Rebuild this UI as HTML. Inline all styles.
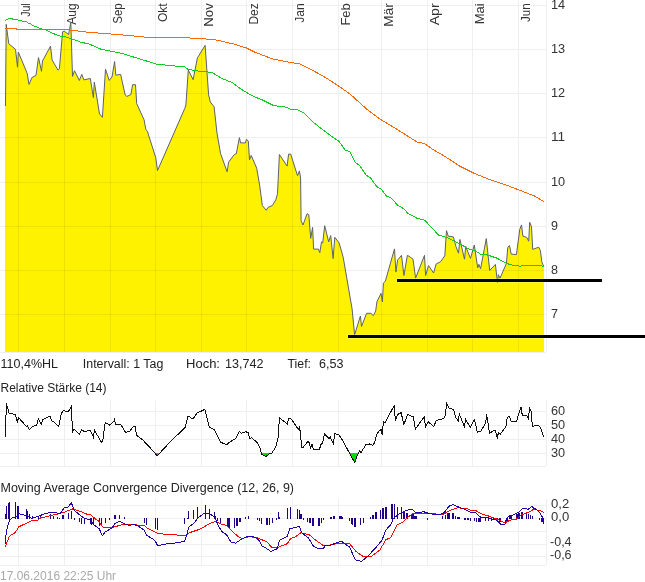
<!DOCTYPE html>
<html><head><meta charset="utf-8"><style>
html,body{margin:0;padding:0;background:#fff;width:645px;height:582px;overflow:hidden}
svg{display:block;will-change:transform}
</style></head><body>
<svg width="645" height="582" viewBox="0 0 645 582">
<line x1="18.5" y1="0" x2="18.5" y2="352" stroke="#efefef" stroke-width="1" />
<line x1="64.5" y1="0" x2="64.5" y2="352" stroke="#efefef" stroke-width="1" />
<line x1="110.5" y1="0" x2="110.5" y2="352" stroke="#efefef" stroke-width="1" />
<line x1="155.5" y1="0" x2="155.5" y2="352" stroke="#efefef" stroke-width="1" />
<line x1="201.5" y1="0" x2="201.5" y2="352" stroke="#efefef" stroke-width="1" />
<line x1="246.5" y1="0" x2="246.5" y2="352" stroke="#efefef" stroke-width="1" />
<line x1="292.5" y1="0" x2="292.5" y2="352" stroke="#efefef" stroke-width="1" />
<line x1="338.5" y1="0" x2="338.5" y2="352" stroke="#efefef" stroke-width="1" />
<line x1="381.5" y1="0" x2="381.5" y2="352" stroke="#efefef" stroke-width="1" />
<line x1="427.5" y1="0" x2="427.5" y2="352" stroke="#efefef" stroke-width="1" />
<line x1="472.5" y1="0" x2="472.5" y2="352" stroke="#efefef" stroke-width="1" />
<line x1="518.5" y1="0" x2="518.5" y2="352" stroke="#efefef" stroke-width="1" />
<line x1="546.5" y1="0" x2="546.5" y2="352" stroke="#efefef" stroke-width="1" />
<line x1="0" y1="5.5" x2="546" y2="5.5" stroke="#efefef" stroke-width="1" />
<line x1="0" y1="49.5" x2="546" y2="49.5" stroke="#efefef" stroke-width="1" />
<line x1="0" y1="93.5" x2="546" y2="93.5" stroke="#efefef" stroke-width="1" />
<line x1="0" y1="137.5" x2="546" y2="137.5" stroke="#efefef" stroke-width="1" />
<line x1="0" y1="182.5" x2="546" y2="182.5" stroke="#efefef" stroke-width="1" />
<line x1="0" y1="226.5" x2="546" y2="226.5" stroke="#efefef" stroke-width="1" />
<line x1="0" y1="270.5" x2="546" y2="270.5" stroke="#efefef" stroke-width="1" />
<line x1="0" y1="314.5" x2="546" y2="314.5" stroke="#efefef" stroke-width="1" />
<line x1="0" y1="352.5" x2="546" y2="352.5" stroke="#efefef" stroke-width="1" />
<text transform="translate(29.6,3.3) rotate(-90)" text-anchor="end" textLength="13.5" lengthAdjust="spacingAndGlyphs" stroke="#fff" stroke-width="2" paint-order="stroke" font-family="Liberation Sans, sans-serif" font-size="12" fill="#333">Jul</text>
<text transform="translate(75.6,3.3) rotate(-90)" text-anchor="end" textLength="21.4" lengthAdjust="spacingAndGlyphs" stroke="#fff" stroke-width="2" paint-order="stroke" font-family="Liberation Sans, sans-serif" font-size="12" fill="#333">Aug</text>
<text transform="translate(121.6,3.3) rotate(-90)" text-anchor="end" textLength="20.5" lengthAdjust="spacingAndGlyphs" stroke="#fff" stroke-width="2" paint-order="stroke" font-family="Liberation Sans, sans-serif" font-size="12" fill="#333">Sep</text>
<text transform="translate(166.6,3.3) rotate(-90)" text-anchor="end" textLength="18.7" lengthAdjust="spacingAndGlyphs" stroke="#fff" stroke-width="2" paint-order="stroke" font-family="Liberation Sans, sans-serif" font-size="12" fill="#333">Okt</text>
<text transform="translate(212.6,3.3) rotate(-90)" text-anchor="end" textLength="23.4" lengthAdjust="spacingAndGlyphs" stroke="#fff" stroke-width="2" paint-order="stroke" font-family="Liberation Sans, sans-serif" font-size="12" fill="#333">Nov</text>
<text transform="translate(257.6,3.3) rotate(-90)" text-anchor="end" textLength="21.3" lengthAdjust="spacingAndGlyphs" stroke="#fff" stroke-width="2" paint-order="stroke" font-family="Liberation Sans, sans-serif" font-size="12" fill="#333">Dez</text>
<text transform="translate(303.6,3.3) rotate(-90)" text-anchor="end" textLength="19.4" lengthAdjust="spacingAndGlyphs" stroke="#fff" stroke-width="2" paint-order="stroke" font-family="Liberation Sans, sans-serif" font-size="12" fill="#333">Jan</text>
<text transform="translate(349.6,3.3) rotate(-90)" text-anchor="end" textLength="22.3" lengthAdjust="spacingAndGlyphs" stroke="#fff" stroke-width="2" paint-order="stroke" font-family="Liberation Sans, sans-serif" font-size="12" fill="#333">Feb</text>
<text transform="translate(392.6,3.3) rotate(-90)" text-anchor="end" textLength="23.4" lengthAdjust="spacingAndGlyphs" stroke="#fff" stroke-width="2" paint-order="stroke" font-family="Liberation Sans, sans-serif" font-size="12" fill="#333">Mär</text>
<text transform="translate(438.6,3.3) rotate(-90)" text-anchor="end" textLength="22.0" lengthAdjust="spacingAndGlyphs" stroke="#fff" stroke-width="2" paint-order="stroke" font-family="Liberation Sans, sans-serif" font-size="12" fill="#333">Apr</text>
<text transform="translate(483.6,3.3) rotate(-90)" text-anchor="end" textLength="20.9" lengthAdjust="spacingAndGlyphs" stroke="#fff" stroke-width="2" paint-order="stroke" font-family="Liberation Sans, sans-serif" font-size="12" fill="#333">Mai</text>
<text transform="translate(529.6,3.3) rotate(-90)" text-anchor="end" textLength="18.6" lengthAdjust="spacingAndGlyphs" stroke="#fff" stroke-width="2" paint-order="stroke" font-family="Liberation Sans, sans-serif" font-size="12" fill="#333">Jun</text>
<clipPath id="cf"><polygon points="5.5,106.0 6.2,24.3 8.8,43.8 15.5,49.3 17.5,67.2 18.3,52.0 27.2,73.4 29.0,84.4 32.0,77.5 36.0,75.4 38.5,57.6 41.5,71.3 42.5,61.0 50.5,46.2 52.1,60.0 58.0,70.2 59.4,68.9 62.6,31.8 64.2,31.1 68.6,34.5 70.8,22.2 72.5,76.4 74.5,70.7 79.3,80.5 81.8,74.4 83.9,79.9 90.3,78.5 93.4,97.6 94.3,82.1 99.5,113.9 102.4,117.3 105.5,69.2 109.2,80.4 112.0,77.0 114.6,61.5 115.8,75.2 120.6,74.4 125.2,95.0 126.9,96.4 130.9,94.6 132.6,84.7 135.5,84.7 136.7,103.6 144.1,119.9 145.8,129.3 147.4,131.4 155.8,157.9 157.5,170.6 184.7,108.6 185.9,105.0 188.3,70.0 193.1,79.7 197.4,58.0 205.1,45.3 208.6,94.8 210.3,102.0 214.1,106.8 217.0,133.3 220.6,153.7 227.1,171.8 228.6,162.2 234.3,154.5 236.3,153.7 239.4,137.6 240.6,142.9 245.4,142.9 246.4,139.3 248.3,141.0 249.5,159.8 251.2,155.4 256.7,168.2 259.8,186.2 262.3,205.5 266.3,210.3 268.0,207.4 272.4,205.5 275.8,199.8 277.5,193.7 279.4,154.5 287.1,166.1 288.6,154.1 290.7,154.1 297.5,175.7 299.4,170.9 300.6,178.1 301.1,220.9 303.0,225.0 307.1,213.7 308.8,214.7 310.7,238.3 312.6,227.4 313.6,249.1 318.4,249.1 319.8,252.7 321.5,241.9 322.7,243.0 324.7,225.7 328.7,241.9 330.7,235.6 333.1,258.5 334.8,237.3 339.1,242.9 343.2,257.3 352.1,309.0 354.6,334.8 360.4,316.0 361.5,326.5 366.6,313.3 370.9,313.3 373.3,315.7 375.7,310.9 376.9,301.8 381.0,293.4 382.4,301.8 383.4,283.0 385.3,281.3 394.5,248.9 395.9,272.1 397.6,260.1 401.5,255.3 403.9,275.5 407.4,255.3 410.8,257.5 413.0,259.2 415.6,278.1 424.5,255.3 425.6,275.5 428.5,265.6 433.6,273.0 436.2,263.9 440.5,261.8 444.8,255.8 446.5,230.6 448.2,236.1 453.4,236.9 455.9,246.4 458.5,253.2 459.9,239.5 464.5,259.2 465.7,246.4 470.5,258.4 474.3,245.0 477.7,267.8 478.9,264.4 480.6,268.7 486.3,238.6 489.7,270.4 495.4,264.4 497.5,282.7 498.3,274.7 500.0,278.1 506.4,263.5 507.8,247.2 509.5,245.5 511.2,254.1 516.4,254.6 519.8,229.2 521.5,224.9 522.9,236.1 526.7,237.4 528.7,241.2 529.7,222.3 531.5,226.6 532.7,249.4 538.7,247.2 540.4,250.6 541.8,261.8 543.5,266.1 544.0,266.1 544.0,352.0 5.0,352.0 5.0,106.0"/></clipPath>
<polygon points="5.5,106.0 6.2,24.3 8.8,43.8 15.5,49.3 17.5,67.2 18.3,52.0 27.2,73.4 29.0,84.4 32.0,77.5 36.0,75.4 38.5,57.6 41.5,71.3 42.5,61.0 50.5,46.2 52.1,60.0 58.0,70.2 59.4,68.9 62.6,31.8 64.2,31.1 68.6,34.5 70.8,22.2 72.5,76.4 74.5,70.7 79.3,80.5 81.8,74.4 83.9,79.9 90.3,78.5 93.4,97.6 94.3,82.1 99.5,113.9 102.4,117.3 105.5,69.2 109.2,80.4 112.0,77.0 114.6,61.5 115.8,75.2 120.6,74.4 125.2,95.0 126.9,96.4 130.9,94.6 132.6,84.7 135.5,84.7 136.7,103.6 144.1,119.9 145.8,129.3 147.4,131.4 155.8,157.9 157.5,170.6 184.7,108.6 185.9,105.0 188.3,70.0 193.1,79.7 197.4,58.0 205.1,45.3 208.6,94.8 210.3,102.0 214.1,106.8 217.0,133.3 220.6,153.7 227.1,171.8 228.6,162.2 234.3,154.5 236.3,153.7 239.4,137.6 240.6,142.9 245.4,142.9 246.4,139.3 248.3,141.0 249.5,159.8 251.2,155.4 256.7,168.2 259.8,186.2 262.3,205.5 266.3,210.3 268.0,207.4 272.4,205.5 275.8,199.8 277.5,193.7 279.4,154.5 287.1,166.1 288.6,154.1 290.7,154.1 297.5,175.7 299.4,170.9 300.6,178.1 301.1,220.9 303.0,225.0 307.1,213.7 308.8,214.7 310.7,238.3 312.6,227.4 313.6,249.1 318.4,249.1 319.8,252.7 321.5,241.9 322.7,243.0 324.7,225.7 328.7,241.9 330.7,235.6 333.1,258.5 334.8,237.3 339.1,242.9 343.2,257.3 352.1,309.0 354.6,334.8 360.4,316.0 361.5,326.5 366.6,313.3 370.9,313.3 373.3,315.7 375.7,310.9 376.9,301.8 381.0,293.4 382.4,301.8 383.4,283.0 385.3,281.3 394.5,248.9 395.9,272.1 397.6,260.1 401.5,255.3 403.9,275.5 407.4,255.3 410.8,257.5 413.0,259.2 415.6,278.1 424.5,255.3 425.6,275.5 428.5,265.6 433.6,273.0 436.2,263.9 440.5,261.8 444.8,255.8 446.5,230.6 448.2,236.1 453.4,236.9 455.9,246.4 458.5,253.2 459.9,239.5 464.5,259.2 465.7,246.4 470.5,258.4 474.3,245.0 477.7,267.8 478.9,264.4 480.6,268.7 486.3,238.6 489.7,270.4 495.4,264.4 497.5,282.7 498.3,274.7 500.0,278.1 506.4,263.5 507.8,247.2 509.5,245.5 511.2,254.1 516.4,254.6 519.8,229.2 521.5,224.9 522.9,236.1 526.7,237.4 528.7,241.2 529.7,222.3 531.5,226.6 532.7,249.4 538.7,247.2 540.4,250.6 541.8,261.8 543.5,266.1 544.0,266.1 544.0,352.0 5.0,352.0 5.0,106.0" fill="#fff200"/>
<g clip-path="url(#cf)">
<line x1="18.5" y1="0" x2="18.5" y2="352" stroke="rgba(0,0,0,0.063)" stroke-width="1" />
<line x1="64.5" y1="0" x2="64.5" y2="352" stroke="rgba(0,0,0,0.063)" stroke-width="1" />
<line x1="110.5" y1="0" x2="110.5" y2="352" stroke="rgba(0,0,0,0.063)" stroke-width="1" />
<line x1="155.5" y1="0" x2="155.5" y2="352" stroke="rgba(0,0,0,0.063)" stroke-width="1" />
<line x1="201.5" y1="0" x2="201.5" y2="352" stroke="rgba(0,0,0,0.063)" stroke-width="1" />
<line x1="246.5" y1="0" x2="246.5" y2="352" stroke="rgba(0,0,0,0.063)" stroke-width="1" />
<line x1="292.5" y1="0" x2="292.5" y2="352" stroke="rgba(0,0,0,0.063)" stroke-width="1" />
<line x1="338.5" y1="0" x2="338.5" y2="352" stroke="rgba(0,0,0,0.063)" stroke-width="1" />
<line x1="381.5" y1="0" x2="381.5" y2="352" stroke="rgba(0,0,0,0.063)" stroke-width="1" />
<line x1="427.5" y1="0" x2="427.5" y2="352" stroke="rgba(0,0,0,0.063)" stroke-width="1" />
<line x1="472.5" y1="0" x2="472.5" y2="352" stroke="rgba(0,0,0,0.063)" stroke-width="1" />
<line x1="518.5" y1="0" x2="518.5" y2="352" stroke="rgba(0,0,0,0.063)" stroke-width="1" />
<line x1="0" y1="5.5" x2="546" y2="5.5" stroke="rgba(0,0,0,0.063)" stroke-width="1" />
<line x1="0" y1="49.5" x2="546" y2="49.5" stroke="rgba(0,0,0,0.063)" stroke-width="1" />
<line x1="0" y1="93.5" x2="546" y2="93.5" stroke="rgba(0,0,0,0.063)" stroke-width="1" />
<line x1="0" y1="137.5" x2="546" y2="137.5" stroke="rgba(0,0,0,0.063)" stroke-width="1" />
<line x1="0" y1="182.5" x2="546" y2="182.5" stroke="rgba(0,0,0,0.063)" stroke-width="1" />
<line x1="0" y1="226.5" x2="546" y2="226.5" stroke="rgba(0,0,0,0.063)" stroke-width="1" />
<line x1="0" y1="270.5" x2="546" y2="270.5" stroke="rgba(0,0,0,0.063)" stroke-width="1" />
<line x1="0" y1="314.5" x2="546" y2="314.5" stroke="rgba(0,0,0,0.063)" stroke-width="1" />
</g>
<polyline points="5.5,106.0 6.2,24.3 8.8,43.8 15.5,49.3 17.5,67.2 18.3,52.0 27.2,73.4 29.0,84.4 32.0,77.5 36.0,75.4 38.5,57.6 41.5,71.3 42.5,61.0 50.5,46.2 52.1,60.0 58.0,70.2 59.4,68.9 62.6,31.8 64.2,31.1 68.6,34.5 70.8,22.2 72.5,76.4 74.5,70.7 79.3,80.5 81.8,74.4 83.9,79.9 90.3,78.5 93.4,97.6 94.3,82.1 99.5,113.9 102.4,117.3 105.5,69.2 109.2,80.4 112.0,77.0 114.6,61.5 115.8,75.2 120.6,74.4 125.2,95.0 126.9,96.4 130.9,94.6 132.6,84.7 135.5,84.7 136.7,103.6 144.1,119.9 145.8,129.3 147.4,131.4 155.8,157.9 157.5,170.6 184.7,108.6 185.9,105.0 188.3,70.0 193.1,79.7 197.4,58.0 205.1,45.3 208.6,94.8 210.3,102.0 214.1,106.8 217.0,133.3 220.6,153.7 227.1,171.8 228.6,162.2 234.3,154.5 236.3,153.7 239.4,137.6 240.6,142.9 245.4,142.9 246.4,139.3 248.3,141.0 249.5,159.8 251.2,155.4 256.7,168.2 259.8,186.2 262.3,205.5 266.3,210.3 268.0,207.4 272.4,205.5 275.8,199.8 277.5,193.7 279.4,154.5 287.1,166.1 288.6,154.1 290.7,154.1 297.5,175.7 299.4,170.9 300.6,178.1 301.1,220.9 303.0,225.0 307.1,213.7 308.8,214.7 310.7,238.3 312.6,227.4 313.6,249.1 318.4,249.1 319.8,252.7 321.5,241.9 322.7,243.0 324.7,225.7 328.7,241.9 330.7,235.6 333.1,258.5 334.8,237.3 339.1,242.9 343.2,257.3 352.1,309.0 354.6,334.8 360.4,316.0 361.5,326.5 366.6,313.3 370.9,313.3 373.3,315.7 375.7,310.9 376.9,301.8 381.0,293.4 382.4,301.8 383.4,283.0 385.3,281.3 394.5,248.9 395.9,272.1 397.6,260.1 401.5,255.3 403.9,275.5 407.4,255.3 410.8,257.5 413.0,259.2 415.6,278.1 424.5,255.3 425.6,275.5 428.5,265.6 433.6,273.0 436.2,263.9 440.5,261.8 444.8,255.8 446.5,230.6 448.2,236.1 453.4,236.9 455.9,246.4 458.5,253.2 459.9,239.5 464.5,259.2 465.7,246.4 470.5,258.4 474.3,245.0 477.7,267.8 478.9,264.4 480.6,268.7 486.3,238.6 489.7,270.4 495.4,264.4 497.5,282.7 498.3,274.7 500.0,278.1 506.4,263.5 507.8,247.2 509.5,245.5 511.2,254.1 516.4,254.6 519.8,229.2 521.5,224.9 522.9,236.1 526.7,237.4 528.7,241.2 529.7,222.3 531.5,226.6 532.7,249.4 538.7,247.2 540.4,250.6 541.8,261.8 543.5,266.1" fill="none" stroke="#5a6070" stroke-width="1"/>
<polyline points="5.0,28.3 16.0,28.3 16.5,29.3 64.2,29.3 86.5,32.1 121.9,34.9 151.6,37.7 183.5,37.6 214.2,39.5 233.7,44.0 246.3,47.9 254.7,52.1 272.8,59.0 291.2,62.6 299.8,63.9 308.5,68.2 321.6,75.2 330.2,80.6 336.5,84.6 350.2,94.1 367.0,109.4 380.9,119.7 397.7,129.8 417.2,142.1 424.3,143.5 433.0,149.5 446.0,157.1 459.1,165.8 474.3,173.4 489.5,179.5 506.8,185.3 519.8,190.3 535.0,196.2 543.7,201.6" fill="none" stroke="#ff6600" stroke-width="1" shape-rendering="crispEdges"/>
<polyline points="5.2,20.3 9.6,18.4 11.7,18.4 12.7,19.4 17.5,19.4 18.6,20.3 21.6,20.5 22.7,21.4 26.5,21.4 28.2,23.0 30.2,23.7 32.3,25.1 34.4,26.3 36.4,26.8 39.5,28.3 45.0,29.7 58.7,35.9 64.9,36.6 71.1,38.7 80.7,42.1 90.0,44.3 101.2,49.3 120.0,52.9 145.0,60.5 155.8,64.0 184.7,67.0 188.0,69.3 200.0,71.3 207.6,71.9 213.0,73.0 221.7,78.4 232.6,82.8 241.2,89.3 252.1,95.8 262.9,100.2 273.8,105.6 286.8,107.3 291.2,109.5 297.7,109.9 304.2,113.2 312.9,121.9 323.7,130.5 335.7,139.2 338.9,141.3 345.1,149.9 349.9,151.7 355.4,162.7 359.6,165.5 366.4,175.4 370.5,177.8 376.7,186.6 381.5,189.4 386.4,196.0 391.2,198.0 397.4,204.9 404.2,209.0 407.9,213.4 416.5,218.0 425.0,220.3 429.3,225.4 438.8,235.2 446.5,237.4 459.4,243.8 470.5,249.8 475.2,250.6 480.3,254.1 486.3,254.6 496.6,258.0 506.9,263.5 511.2,264.9 519.8,266.1 530.1,265.2 543.8,266.1" fill="none" stroke="#11cc22" stroke-width="1" shape-rendering="crispEdges"/>
<rect x="396" y="278" width="207" height="5" fill="rgba(255,255,255,0.2)"/>
<rect x="347" y="334" width="299" height="5" fill="rgba(255,255,255,0.2)"/>
<rect x="397" y="279" width="205" height="3" fill="#000"/>
<rect x="348" y="335" width="297" height="3" fill="#000"/>
<text x="551" y="8.5" textLength="14.2" lengthAdjust="spacingAndGlyphs" font-family="Liberation Sans, sans-serif" font-size="12" fill="#333">14</text>
<text x="551" y="52.5" textLength="14.2" lengthAdjust="spacingAndGlyphs" font-family="Liberation Sans, sans-serif" font-size="12" fill="#333">13</text>
<text x="551" y="96.5" textLength="14.2" lengthAdjust="spacingAndGlyphs" font-family="Liberation Sans, sans-serif" font-size="12" fill="#333">12</text>
<text x="551" y="140.5" textLength="14.2" lengthAdjust="spacingAndGlyphs" font-family="Liberation Sans, sans-serif" font-size="12" fill="#333">11</text>
<text x="551" y="185.5" textLength="14.2" lengthAdjust="spacingAndGlyphs" font-family="Liberation Sans, sans-serif" font-size="12" fill="#333">10</text>
<text x="551" y="229.5" textLength="7.0" lengthAdjust="spacingAndGlyphs" font-family="Liberation Sans, sans-serif" font-size="12" fill="#333">9</text>
<text x="551" y="273.5" textLength="7.0" lengthAdjust="spacingAndGlyphs" font-family="Liberation Sans, sans-serif" font-size="12" fill="#333">8</text>
<text x="551" y="317.5" textLength="7.0" lengthAdjust="spacingAndGlyphs" font-family="Liberation Sans, sans-serif" font-size="12" fill="#333">7</text>
<text x="0.5" y="368" textLength="57.5" lengthAdjust="spacingAndGlyphs" font-family="Liberation Sans, sans-serif" font-size="12" fill="#222">110,4%HL</text>
<text x="82.8" y="368" textLength="80.5" lengthAdjust="spacingAndGlyphs" font-family="Liberation Sans, sans-serif" font-size="12" fill="#222">Intervall: 1 Tag</text>
<text x="186" y="368" textLength="34" lengthAdjust="spacingAndGlyphs" font-family="Liberation Sans, sans-serif" font-size="12" fill="#222">Hoch:</text>
<text x="225" y="368" textLength="38.5" lengthAdjust="spacingAndGlyphs" font-family="Liberation Sans, sans-serif" font-size="12" fill="#222">13,742</text>
<text x="287.5" y="368" textLength="23.5" lengthAdjust="spacingAndGlyphs" font-family="Liberation Sans, sans-serif" font-size="12" fill="#222">Tief:</text>
<text x="319" y="368" textLength="24.5" lengthAdjust="spacingAndGlyphs" font-family="Liberation Sans, sans-serif" font-size="12" fill="#222">6,53</text>
<text x="0.5" y="392" textLength="106" lengthAdjust="spacingAndGlyphs" font-family="Liberation Sans, sans-serif" font-size="12" fill="#222">Relative Stärke (14)</text>
<line x1="18.5" y1="400" x2="18.5" y2="466" stroke="#efefef" stroke-width="1" />
<line x1="64.5" y1="400" x2="64.5" y2="466" stroke="#efefef" stroke-width="1" />
<line x1="110.5" y1="400" x2="110.5" y2="466" stroke="#efefef" stroke-width="1" />
<line x1="155.5" y1="400" x2="155.5" y2="466" stroke="#efefef" stroke-width="1" />
<line x1="201.5" y1="400" x2="201.5" y2="466" stroke="#efefef" stroke-width="1" />
<line x1="246.5" y1="400" x2="246.5" y2="466" stroke="#efefef" stroke-width="1" />
<line x1="292.5" y1="400" x2="292.5" y2="466" stroke="#efefef" stroke-width="1" />
<line x1="338.5" y1="400" x2="338.5" y2="466" stroke="#efefef" stroke-width="1" />
<line x1="381.5" y1="400" x2="381.5" y2="466" stroke="#efefef" stroke-width="1" />
<line x1="427.5" y1="400" x2="427.5" y2="466" stroke="#efefef" stroke-width="1" />
<line x1="472.5" y1="400" x2="472.5" y2="466" stroke="#efefef" stroke-width="1" />
<line x1="518.5" y1="400" x2="518.5" y2="466" stroke="#efefef" stroke-width="1" />
<line x1="546.5" y1="400" x2="546.5" y2="466" stroke="#efefef" stroke-width="1" />
<line x1="0" y1="411.5" x2="546" y2="411.5" stroke="#efefef" stroke-width="1" />
<line x1="0" y1="425.5" x2="546" y2="425.5" stroke="#efefef" stroke-width="1" />
<line x1="0" y1="439.5" x2="546" y2="439.5" stroke="#efefef" stroke-width="1" />
<line x1="0" y1="453.5" x2="546" y2="453.5" stroke="#efefef" stroke-width="1" />
<line x1="0" y1="466.5" x2="546" y2="466.5" stroke="#efefef" stroke-width="1" />
<clipPath id="c30"><rect x="0" y="453" width="546" height="20"/></clipPath>
<polygon points="5.6,436.8 5.6,420.0 5.9,420.0 6.3,403.3 7.0,407.8 7.3,406.4 9.1,413.1 15.3,414.5 17.4,422.8 18.4,417.5 26.5,426.6 27.2,425.6 29.3,429.4 32.4,426.6 36.6,425.2 38.4,418.7 41.2,424.2 42.6,420.0 50.0,415.9 51.6,421.0 53.7,421.4 58.6,426.6 61.4,413.3 63.5,410.3 68.1,412.2 71.2,406.7 72.6,431.5 74.0,429.4 79.5,434.0 81.6,429.8 84.4,431.5 89.9,430.4 91.3,432.2 93.4,437.3 94.5,430.4 101.7,442.6 103.1,438.5 105.2,422.4 109.8,425.2 113.6,421.7 114.6,419.2 115.4,424.2 120.6,424.2 125.5,432.2 129.4,431.5 133.1,426.6 135.2,426.6 136.6,435.4 143.6,440.6 145.0,442.6 146.9,444.2 157.3,455.8 170.0,442.0 185.3,427.3 188.1,415.9 193.0,419.2 197.2,412.7 200.0,411.7 204.9,409.4 209.3,427.0 214.4,429.8 220.9,442.4 227.2,444.7 228.6,442.9 235.6,438.5 239.1,431.5 241.2,433.2 246.0,431.8 248.1,432.6 249.8,438.7 251.6,437.8 257.2,442.6 260.5,448.5 261.3,454.4 264.3,455.4 265.9,456.5 268.0,455.0 269.3,453.5 271.5,453.5 275.9,446.8 278.0,438.5 279.4,417.8 287.4,423.8 288.5,418.7 291.0,418.7 298.3,429.4 299.4,427.3 299.9,429.4 301.7,447.1 303.1,447.5 307.7,441.5 309.4,442.6 310.5,449.3 311.9,444.0 313.3,449.3 319.5,449.9 320.6,444.7 322.7,442.6 324.5,434.0 329.0,438.5 330.3,437.1 333.4,443.8 334.8,433.6 338.7,434.6 342.8,440.6 349.8,453.8 354.7,462.5 358.1,453.5 359.8,450.7 360.9,452.7 366.2,444.3 369.6,444.0 372.8,445.4 374.6,442.6 376.6,434.6 379.3,430.4 381.2,429.8 382.1,434.6 383.5,422.0 384.9,422.8 394.1,405.7 395.5,421.0 397.5,414.5 401.1,412.7 403.9,424.5 407.7,414.5 413.3,416.8 415.3,429.0 424.4,416.8 425.4,427.3 428.1,421.7 433.7,426.6 436.2,420.6 443.4,418.7 445.2,415.9 446.6,403.6 449.4,408.5 453.6,409.4 455.4,416.8 458.5,421.4 459.2,413.6 464.3,426.6 465.7,419.6 470.3,427.3 474.5,419.6 477.3,432.2 480.5,431.5 485.7,423.1 486.7,414.5 489.5,433.2 494.8,430.1 495.5,430.4 497.3,438.5 498.3,432.9 500.3,434.0 505.9,426.6 507.3,417.5 509.4,416.4 511.0,421.1 516.8,421.1 518.6,414.2 520.9,406.7 522.3,415.3 526.8,415.6 528.2,418.4 529.6,408.5 531.3,411.2 532.3,426.3 538.2,425.5 540.5,427.7 543.7,436.5" fill="#00dd00" clip-path="url(#c30)"/>
<polyline points="5.6,436.8 5.6,420.0 5.9,420.0 6.3,403.3 7.0,407.8 7.3,406.4 9.1,413.1 15.3,414.5 17.4,422.8 18.4,417.5 26.5,426.6 27.2,425.6 29.3,429.4 32.4,426.6 36.6,425.2 38.4,418.7 41.2,424.2 42.6,420.0 50.0,415.9 51.6,421.0 53.7,421.4 58.6,426.6 61.4,413.3 63.5,410.3 68.1,412.2 71.2,406.7 72.6,431.5 74.0,429.4 79.5,434.0 81.6,429.8 84.4,431.5 89.9,430.4 91.3,432.2 93.4,437.3 94.5,430.4 101.7,442.6 103.1,438.5 105.2,422.4 109.8,425.2 113.6,421.7 114.6,419.2 115.4,424.2 120.6,424.2 125.5,432.2 129.4,431.5 133.1,426.6 135.2,426.6 136.6,435.4 143.6,440.6 145.0,442.6 146.9,444.2 157.3,455.8 170.0,442.0 185.3,427.3 188.1,415.9 193.0,419.2 197.2,412.7 200.0,411.7 204.9,409.4 209.3,427.0 214.4,429.8 220.9,442.4 227.2,444.7 228.6,442.9 235.6,438.5 239.1,431.5 241.2,433.2 246.0,431.8 248.1,432.6 249.8,438.7 251.6,437.8 257.2,442.6 260.5,448.5 261.3,454.4 264.3,455.4 265.9,456.5 268.0,455.0 269.3,453.5 271.5,453.5 275.9,446.8 278.0,438.5 279.4,417.8 287.4,423.8 288.5,418.7 291.0,418.7 298.3,429.4 299.4,427.3 299.9,429.4 301.7,447.1 303.1,447.5 307.7,441.5 309.4,442.6 310.5,449.3 311.9,444.0 313.3,449.3 319.5,449.9 320.6,444.7 322.7,442.6 324.5,434.0 329.0,438.5 330.3,437.1 333.4,443.8 334.8,433.6 338.7,434.6 342.8,440.6 349.8,453.8 354.7,462.5 358.1,453.5 359.8,450.7 360.9,452.7 366.2,444.3 369.6,444.0 372.8,445.4 374.6,442.6 376.6,434.6 379.3,430.4 381.2,429.8 382.1,434.6 383.5,422.0 384.9,422.8 394.1,405.7 395.5,421.0 397.5,414.5 401.1,412.7 403.9,424.5 407.7,414.5 413.3,416.8 415.3,429.0 424.4,416.8 425.4,427.3 428.1,421.7 433.7,426.6 436.2,420.6 443.4,418.7 445.2,415.9 446.6,403.6 449.4,408.5 453.6,409.4 455.4,416.8 458.5,421.4 459.2,413.6 464.3,426.6 465.7,419.6 470.3,427.3 474.5,419.6 477.3,432.2 480.5,431.5 485.7,423.1 486.7,414.5 489.5,433.2 494.8,430.1 495.5,430.4 497.3,438.5 498.3,432.9 500.3,434.0 505.9,426.6 507.3,417.5 509.4,416.4 511.0,421.1 516.8,421.1 518.6,414.2 520.9,406.7 522.3,415.3 526.8,415.6 528.2,418.4 529.6,408.5 531.3,411.2 532.3,426.3 538.2,425.5 540.5,427.7 543.7,436.5" fill="none" stroke="#111" stroke-width="1" shape-rendering="crispEdges"/>
<text x="551" y="414.5" textLength="14.2" lengthAdjust="spacingAndGlyphs" font-family="Liberation Sans, sans-serif" font-size="12" fill="#333">60</text>
<text x="551" y="428.5" textLength="14.2" lengthAdjust="spacingAndGlyphs" font-family="Liberation Sans, sans-serif" font-size="12" fill="#333">50</text>
<text x="551" y="442.5" textLength="14.2" lengthAdjust="spacingAndGlyphs" font-family="Liberation Sans, sans-serif" font-size="12" fill="#333">40</text>
<text x="551" y="456.5" textLength="14.2" lengthAdjust="spacingAndGlyphs" font-family="Liberation Sans, sans-serif" font-size="12" fill="#333">30</text>
<text x="0.5" y="492" textLength="293.5" lengthAdjust="spacingAndGlyphs" font-family="Liberation Sans, sans-serif" font-size="12" fill="#222">Moving Average Convergence Divergence (12, 26, 9)</text>
<line x1="18.5" y1="499" x2="18.5" y2="565" stroke="#efefef" stroke-width="1" />
<line x1="64.5" y1="499" x2="64.5" y2="565" stroke="#efefef" stroke-width="1" />
<line x1="110.5" y1="499" x2="110.5" y2="565" stroke="#efefef" stroke-width="1" />
<line x1="155.5" y1="499" x2="155.5" y2="565" stroke="#efefef" stroke-width="1" />
<line x1="201.5" y1="499" x2="201.5" y2="565" stroke="#efefef" stroke-width="1" />
<line x1="246.5" y1="499" x2="246.5" y2="565" stroke="#efefef" stroke-width="1" />
<line x1="292.5" y1="499" x2="292.5" y2="565" stroke="#efefef" stroke-width="1" />
<line x1="338.5" y1="499" x2="338.5" y2="565" stroke="#efefef" stroke-width="1" />
<line x1="381.5" y1="499" x2="381.5" y2="565" stroke="#efefef" stroke-width="1" />
<line x1="427.5" y1="499" x2="427.5" y2="565" stroke="#efefef" stroke-width="1" />
<line x1="472.5" y1="499" x2="472.5" y2="565" stroke="#efefef" stroke-width="1" />
<line x1="518.5" y1="499" x2="518.5" y2="565" stroke="#efefef" stroke-width="1" />
<line x1="546.5" y1="499" x2="546.5" y2="565" stroke="#efefef" stroke-width="1" />
<line x1="0" y1="505.5" x2="546" y2="505.5" stroke="#efefef" stroke-width="1" />
<line x1="0" y1="518.5" x2="546" y2="518.5" stroke="#efefef" stroke-width="1" />
<line x1="0" y1="531.5" x2="546" y2="531.5" stroke="#efefef" stroke-width="1" />
<line x1="0" y1="544.5" x2="546" y2="544.5" stroke="#efefef" stroke-width="1" />
<line x1="0" y1="556.5" x2="546" y2="556.5" stroke="#efefef" stroke-width="1" />
<line x1="0" y1="565.5" x2="546" y2="565.5" stroke="#efefef" stroke-width="1" />
<g fill="#22008a" shape-rendering="crispEdges"><rect x="5" y="514" width="1" height="5"/><rect x="6" y="506" width="1" height="13"/><rect x="8" y="503" width="1" height="16"/><rect x="9" y="502" width="1" height="17"/><rect x="15" y="502" width="1" height="17"/><rect x="17" y="506" width="1" height="13"/><rect x="18" y="506" width="1" height="13"/><rect x="26" y="509" width="1" height="10"/><rect x="27" y="511" width="1" height="8"/><rect x="29" y="514" width="1" height="5"/><rect x="32" y="516" width="1" height="3"/><rect x="38" y="516" width="1" height="3"/><rect x="40" y="515" width="1" height="4"/><rect x="50" y="514" width="1" height="5"/><rect x="53" y="516" width="1" height="3"/><rect x="57" y="517" width="1" height="2"/><rect x="59" y="518" width="1" height="1"/><rect x="62" y="515" width="2" height="4"/><rect x="68" y="513" width="1" height="6"/><rect x="71" y="511" width="1" height="8"/><rect x="74" y="518" width="1" height="2"/><rect x="79" y="518" width="1" height="4"/><rect x="81" y="518" width="1" height="6"/><rect x="84" y="518" width="1" height="6"/><rect x="90" y="518" width="1" height="6"/><rect x="91" y="518" width="1" height="7"/><rect x="93" y="518" width="1" height="7"/><rect x="99" y="518" width="1" height="8"/><rect x="101" y="518" width="1" height="8"/><rect x="105" y="518" width="1" height="5"/><rect x="109" y="518" width="1" height="2"/><rect x="114" y="515" width="2" height="4"/><rect x="119" y="515" width="1" height="4"/><rect x="124" y="517" width="1" height="2"/><rect x="144" y="518" width="1" height="5"/><rect x="146" y="518" width="1" height="7"/><rect x="155" y="518" width="1" height="11"/><rect x="157" y="518" width="1" height="12"/><rect x="184" y="518" width="1" height="6"/><rect x="187" y="518" width="1" height="1"/><rect x="188" y="511" width="1" height="8"/><rect x="193" y="510" width="1" height="9"/><rect x="197" y="507" width="1" height="12"/><rect x="205" y="505" width="1" height="14"/><rect x="209" y="509" width="1" height="10"/><rect x="214" y="512" width="1" height="7"/><rect x="215" y="516" width="1" height="3"/><rect x="217" y="518" width="1" height="3"/><rect x="220" y="518" width="1" height="6"/><rect x="227" y="518" width="2" height="9"/><rect x="229" y="518" width="1" height="10"/><rect x="234" y="518" width="1" height="10"/><rect x="236" y="518" width="2" height="8"/><rect x="239" y="518" width="2" height="4"/><rect x="245" y="517" width="1" height="2"/><rect x="248" y="516" width="1" height="3"/><rect x="257" y="518" width="1" height="2"/><rect x="259" y="518" width="1" height="3"/><rect x="261" y="518" width="1" height="6"/><rect x="266" y="518" width="2" height="7"/><rect x="269" y="518" width="1" height="7"/><rect x="272" y="518" width="1" height="5"/><rect x="276" y="518" width="1" height="2"/><rect x="278" y="512" width="1" height="7"/><rect x="279" y="517" width="1" height="2"/><rect x="287" y="508" width="1" height="11"/><rect x="290" y="507" width="1" height="12"/><rect x="297" y="509" width="1" height="10"/><rect x="299" y="510" width="1" height="9"/><rect x="300" y="514" width="2" height="5"/><rect x="303" y="518" width="1" height="2"/><rect x="307" y="518" width="1" height="4"/><rect x="309" y="518" width="2" height="5"/><rect x="312" y="518" width="2" height="8"/><rect x="318" y="518" width="2" height="8"/><rect x="321" y="518" width="1" height="5"/><rect x="323" y="518" width="1" height="2"/><rect x="330" y="517" width="2" height="2"/><rect x="333" y="516" width="2" height="3"/><rect x="339" y="516" width="3" height="3"/><rect x="342" y="517" width="1" height="2"/><rect x="349" y="518" width="1" height="3"/><rect x="351" y="518" width="1" height="6"/><rect x="352" y="518" width="1" height="7"/><rect x="354" y="518" width="2" height="9"/><rect x="360" y="518" width="1" height="7"/><rect x="363" y="518" width="1" height="5"/><rect x="370" y="517" width="1" height="2"/><rect x="372" y="515" width="2" height="4"/><rect x="375" y="512" width="2" height="7"/><rect x="380" y="510" width="1" height="9"/><rect x="382" y="508" width="2" height="11"/><rect x="385" y="507" width="2" height="12"/><rect x="391" y="504" width="2" height="15"/><rect x="394" y="504" width="1" height="15"/><rect x="397" y="507" width="1" height="12"/><rect x="401" y="507" width="1" height="12"/><rect x="403" y="511" width="2" height="8"/><rect x="406" y="513" width="2" height="6"/><rect x="411" y="514" width="3" height="5"/><rect x="414" y="516" width="3" height="3"/><rect x="427" y="518" width="1" height="2"/><rect x="442" y="516" width="1" height="3"/><rect x="445" y="515" width="1" height="4"/><rect x="447" y="513" width="3" height="6"/><rect x="452" y="513" width="2" height="6"/><rect x="455" y="516" width="1" height="3"/><rect x="457" y="517" width="3" height="2"/><rect x="464" y="518" width="2" height="2"/><rect x="467" y="518" width="2" height="2"/><rect x="470" y="518" width="1" height="3"/><rect x="474" y="518" width="1" height="3"/><rect x="476" y="518" width="1" height="4"/><rect x="478" y="518" width="3" height="4"/><rect x="485" y="518" width="1" height="3"/><rect x="488" y="518" width="1" height="3"/><rect x="491" y="518" width="1" height="3"/><rect x="493" y="518" width="2" height="2"/><rect x="497" y="518" width="1" height="4"/><rect x="499" y="518" width="2" height="4"/><rect x="506" y="518" width="2" height="3"/><rect x="509" y="515" width="2" height="4"/><rect x="511" y="515" width="1" height="4"/><rect x="516" y="514" width="2" height="5"/><rect x="518" y="513" width="2" height="6"/><rect x="521" y="512" width="2" height="7"/><rect x="526" y="514" width="1" height="5"/><rect x="528" y="514" width="1" height="5"/><rect x="530" y="515" width="1" height="4"/><rect x="532" y="516" width="1" height="3"/><rect x="539" y="518" width="1" height="2"/><rect x="541" y="518" width="1" height="4"/><rect x="543" y="518" width="1" height="6"/></g>
<polyline points="5.3,546.6 9.5,536.2 15.3,532.4 18.8,526.8 31.4,520.8 37.7,520.4 40.5,518.0 58.6,513.8 65.6,511.7 72.6,509.0 80.9,511.5 87.2,514.3 90.6,514.3 93.4,517.3 99.0,521.5 103.1,527.4 112.2,527.4 124.1,524.3 136.6,525.0 144.3,525.4 147.1,528.2 156.9,533.0 164.5,534.3 175.0,534.3 178.4,535.5 185.3,535.7 189.5,532.7 197.9,529.9 204.9,526.4 209.8,523.6 215.3,521.5 221.6,524.3 226.5,525.4 230.0,529.2 238.4,536.9 242.6,538.5 248.1,536.9 255.1,537.1 260.0,539.0 266.9,541.7 271.7,547.3 278.0,547.3 287.1,543.8 290.6,538.5 295.5,536.9 301.0,532.7 309.4,534.8 315.0,539.6 322.7,545.2 329.0,545.2 335.9,543.8 349.1,543.1 356.0,551.5 363.0,556.4 371.4,556.4 379.8,550.1 386.0,539.6 390.9,537.6 397.2,525.0 402.8,522.2 407.0,518.0 412.6,513.8 416.0,513.1 433.4,513.8 443.1,514.5 450.1,510.3 457.8,507.8 466.9,508.7 471.0,510.3 475.9,510.6 482.2,514.3 489.2,516.2 497.6,519.4 505.0,522.8 510.0,520.3 517.0,518.9 521.0,515.1 526.0,513.2 531.0,511.3 533.0,509.5 535.0,509.2 538.0,510.4 540.0,510.4 542.0,511.6 544.0,512.7" fill="none" stroke="#ff0000" stroke-width="1" shape-rendering="crispEdges"/>
<polyline points="5.3,543.8 6.3,531.3 7.7,526.4 9.5,519.8 13.3,517.3 18.1,516.6 18.8,513.8 25.1,515.2 32.1,518.4 39.1,515.9 44.6,513.8 50.2,512.4 54.4,512.4 60.0,513.8 64.2,507.8 68.4,506.9 71.4,502.7 74.0,510.1 80.9,515.9 83.7,518.0 89.9,520.1 94.1,525.0 99.0,528.5 102.4,535.5 105.2,532.0 112.2,527.8 115.0,523.6 119.9,521.2 125.5,524.3 129.6,525.4 133.8,524.3 137.3,525.7 143.6,529.6 147.1,535.5 154.8,540.3 157.6,545.5 161.0,545.0 168.7,543.6 174.2,543.1 179.8,542.4 184.7,541.0 187.0,534.1 188.8,527.4 190.9,525.4 193.7,523.6 198.6,517.3 203.5,513.8 205.6,513.1 210.5,514.5 214.4,516.6 218.1,525.0 221.6,531.3 226.5,534.8 231.4,542.7 235.6,543.1 241.2,539.4 248.1,536.2 253.7,536.9 258.5,539.6 262.0,545.9 266.9,548.7 271.0,551.5 277.3,548.7 279.4,540.3 287.1,536.6 289.9,528.5 294.1,527.8 299.6,526.4 301.7,532.7 308.7,538.3 313.6,546.6 319.2,548.7 323.4,548.7 324.8,545.9 331.0,545.0 335.9,543.1 341.5,541.3 349.8,547.3 355.3,559.9 361.6,561.3 367.2,556.7 374.9,548.7 381.9,540.3 386.0,529.9 391.6,523.6 393.0,518.7 398.6,514.3 407.0,510.1 412.6,509.7 416.0,512.9 423.7,511.7 427.8,513.1 434.8,514.5 443.1,513.8 445.9,510.3 449.4,505.9 452.9,504.5 456.4,506.2 462.0,508.3 468.3,511.0 470.3,512.4 475.2,512.4 478.7,515.9 482.2,518.0 486.4,517.3 496.2,520.1 501.7,525.0 505.0,524.2 506.5,518.6 510.0,515.4 512.0,515.4 518.0,512.7 520.0,510.9 522.0,508.8 526.0,508.5 528.0,509.5 531.0,507.1 532.0,506.4 534.0,508.5 536.0,509.2 540.0,513.0 542.0,516.5 543.4,523.8" fill="none" stroke="#2200aa" stroke-width="1" shape-rendering="crispEdges"/>
<text x="551" y="508.3" textLength="18.2" lengthAdjust="spacingAndGlyphs" font-family="Liberation Sans, sans-serif" font-size="12" fill="#333">0,2</text>
<text x="551" y="520.8" textLength="18.2" lengthAdjust="spacingAndGlyphs" font-family="Liberation Sans, sans-serif" font-size="12" fill="#333">0,0</text>
<text x="550" y="545.8" textLength="21.6" lengthAdjust="spacingAndGlyphs" font-family="Liberation Sans, sans-serif" font-size="12" fill="#333">-0,4</text>
<text x="550" y="558.8" textLength="21.6" lengthAdjust="spacingAndGlyphs" font-family="Liberation Sans, sans-serif" font-size="12" fill="#333">-0,6</text>
<text x="0" y="579.5" font-family="Liberation Sans, sans-serif" font-size="12" fill="#aaa">17.06.2016 22:25 Uhr</text>
</svg>
</body></html>
